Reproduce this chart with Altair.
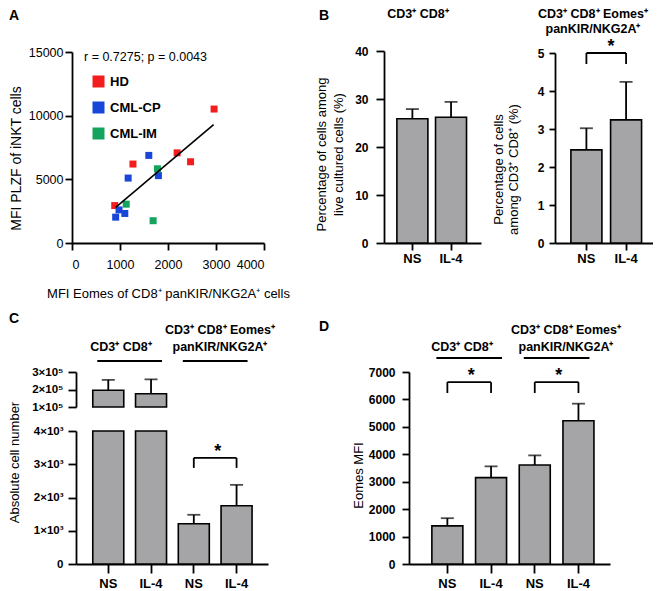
import altair as alt
import pandas as pd

FONT = "Liberation Sans, Arial, Helvetica, sans-serif"
GRAY = "#a5a5a7"
W, H = 645, 575

# ---------------- Panel A data ----------------
a_group = ["HD", "HD", "HD", "HD", "HD",
           "CML-CP", "CML-CP", "CML-CP", "CML-CP", "CML-CP", "CML-CP",
           "CML-IM", "CML-IM", "CML-IM"]
a_eomes = [2960, 2190, 2470, 1270, 890, 1600, 1800, 1170, 980, 1100, 910, 1780, 1130, 1690]
a_plzf = [10520, 7080, 6380, 6200, 2940, 6880, 5290, 5100, 2600, 2320, 2030, 5830, 3050, 1750]
a_fit_x = [910, 2950]
a_fit_y = [2790, 9300]
a_legend = ["HD", "CML-CP", "CML-IM"]
a_colors = ["#f31d1d", "#1846d8", "#14a45e"]
a_stat = "r = 0.7275; p = 0.0043"

# ---------------- Panel B data ----------------
b_cond = ["NS", "IL-4"]
b_live_mean = [25.9, 26.2]
b_live_sd = [2.0, 3.2]
b_eo_mean = [2.45, 3.24]
b_eo_sd = [0.57, 1.00]
b_sig = [5.0, 4.71]

# ---------------- Panel C data ----------------
c_set = ["g1", "g1", "g2", "g2"]
c_cond = ["NS", "IL-4", "NS", "IL-4"]
c_mean = [196000, 176000, 1210, 1750]
c_sd = [59000, 82000, 270, 630]
c_sig = [3190, 2890]

# ---------------- Panel D data ----------------
d_mean = [1390, 3150, 3610, 5225]
d_sd = [280, 410, 350, 620]
d_sig = [6630, 6235]

grp_cd8 = "CD3\u207a CD8\u207a"
grp_eom = ["CD3\u207a CD8\u207a  Eomes\u207a", "panKIR/NKG2A\u207a"]

NOAXIS = "none"   # marker: hide the axis for the whole panel
SHARE = "share"   # marker: secondary layer, axis comes from the primary layer


def axis(orient, offset, **kw):
    base = dict(orient=orient, grid=False, domainColor="black",
                domainWidth=1.8, tickColor="black", tickWidth=1.8, tickSize=7,
                labelColor="black", labelFont=FONT, labelFontSize=12,
                labelFontWeight="bold", labelPadding=4, titleFont=FONT,
                titleColor="black", titleFontWeight="normal", titleFontSize=13,
                labelOverlap=False, labelAngle=0)
    if offset != 0:
        base["offset"] = offset
    base.update(kw)
    return alt.Axis(**base)


def X(field, scale, ax=SHARE):
    if isinstance(ax, str) and ax == NOAXIS:
        return alt.X(field, scale=scale, axis=None)
    if isinstance(ax, str) and ax == SHARE:
        return alt.X(field, scale=scale)
    return alt.X(field, scale=scale, axis=ax)


def Y(field, scale, ax=SHARE):
    if isinstance(ax, str) and ax == NOAXIS:
        return alt.Y(field, scale=scale, axis=None)
    if isinstance(ax, str) and ax == SHARE:
        return alt.Y(field, scale=scale)
    return alt.Y(field, scale=scale, axis=ax)


one = pd.DataFrame({"a": [0]})


def txt(s, x, y, size=12.5, weight="bold", align="center", baseline="middle", lh=None):
    kw = dict(font=FONT, fontSize=size, fontWeight=weight, align=align,
              baseline=baseline, color="black")
    if lh:
        kw["lineHeight"] = lh
    return alt.Chart(one).mark_text(**kw).encode(
        x=alt.value(x), y=alt.value(y), text=alt.value(s))


def bar_panel(df, xs, ys, xaxis, yaxis, y2=None):
    sx = NOAXIS if (isinstance(xaxis, str) and xaxis == NOAXIS) else SHARE
    base = alt.Chart(df)
    bars = base.mark_bar(size=31, fill=GRAY, stroke="black", strokeWidth=1.6).encode(
        x=X("key:N", xs, xaxis), y=Y("mean:Q", ys, yaxis))
    if y2 is not None:
        bars = bars.encode(y2=alt.datum(y2))
    err = base.mark_rule(color="black", strokeWidth=1.8).encode(
        x=X("key:N", xs, sx), y=Y("mean:Q", ys), y2="top:Q")
    cap = base.mark_tick(color="black", thickness=1.8, size=13).encode(
        x=X("key:N", xs, sx), y=Y("top:Q", ys))
    return [bars, err, cap]


def bracket(k1, k2, top, arm, xs, ys, dx):
    h = pd.DataFrame({"x1": [k1], "x2": [k2], "top": [top]})
    a = pd.DataFrame({"x": [k1, k2], "top": [top, top], "arm": [arm, arm]})
    hl = alt.Chart(h).mark_rule(color="black", strokeWidth=1.8).encode(
        x=X("x1:N", xs), x2="x2:N", y=Y("top:Q", ys))
    al = alt.Chart(a).mark_rule(color="black", strokeWidth=1.8).encode(
        x=X("x:N", xs), y=Y("arm:Q", ys), y2="top:Q")
    st = alt.Chart(h).mark_text(text="*", font=FONT, fontSize=18, fontWeight="bold",
                                dx=dx, dy=-6, baseline="middle", color="black").encode(
        x=X("x1:N", xs), y=Y("top:Q", ys))
    return [hl, al, st]


def group_line(k1, k2, xs, ypix):
    d = pd.DataFrame({"x1": [k1], "x2": [k2]})
    return alt.Chart(d).mark_rule(color="black", strokeWidth=1.8, xOffset=-11,
                                  x2Offset=11).encode(
        x=X("x1:N", xs), x2="x2:N", y=alt.value(ypix))


# ---------------- Panel A ----------------
dfA = pd.DataFrame({"eomes": a_eomes, "plzf": a_plzf, "group": a_group})
dfFit = pd.DataFrame({"eomes": a_fit_x, "plzf": a_fit_y})
axs = alt.Scale(domain=[0, 4000], range=[64, 256], nice=False, zero=False)
ays = alt.Scale(domain=[0, 15000], range=[235, 44], nice=False, zero=False)

ptsA = alt.Chart(dfA).mark_square(size=49, opacity=1).encode(
    x=X("eomes:Q", axs, axis(
        "bottom", 235 - H, values=[0, 1000, 2000, 3000, 4000], format="d",
        labelFontWeight="normal", labelFontSize=12.5, labelPadding=8,
        title="MFI Eomes of CD8\u207a panKIR/NKG2A\u207a cells",
        titleX=160, titleY=50, titleBaseline="middle", titleAlign="center")),
    y=Y("plzf:Q", ays, axis(
        "left", -64, values=[0, 5000, 10000, 15000], format="d",
        labelFontWeight="normal", labelFontSize=12.5, labelPadding=2,
        title="MFI PLZF of iNKT cells",
        titleFontSize=14, titleAngle=270, titleX=-56, titleY=150,
        titleBaseline="middle", titleAlign="center")),
    color=alt.Color("group:N", scale=alt.Scale(domain=a_legend, range=a_colors),
                    legend=alt.Legend(orient="none", legendX=84, legendY=67,
                                      title=None, symbolType="square", symbolSize=144,
                                      symbolStrokeWidth=0, labelFont=FONT,
                                      labelFontSize=13, labelFontWeight="bold",
                                      labelColor="black", rowPadding=12,
                                      labelOffset=5, padding=0)))
fitA = alt.Chart(dfFit).mark_line(color="black", strokeWidth=1.6).encode(
    x=X("eomes:Q", axs), y=Y("plzf:Q", ays))
panelA = alt.layer(ptsA, fitA)

# ---------------- Panel B (left) ----------------
dfBL = pd.DataFrame({"key": b_cond, "mean": b_live_mean, "sd": b_live_sd})
dfBL["top"] = dfBL["mean"] + dfBL["sd"]
blx = alt.Scale(domain=b_cond, range=[376, 473], padding=0.51, align=0.48)
bly = alt.Scale(domain=[0, 40], range=[235, 43], nice=False, zero=True)
panelBL = alt.layer(*bar_panel(
    dfBL, blx, bly,
    axis("bottom", 235 - H, title=None, labelFontSize=13, labelPadding=2),
    axis("left", -376, values=[0, 10, 20, 30, 40], format="d", tickSize=8,
         labelPadding=8,
         title=["Percentage of cells among", "live cultured cells (%)"],
         titleAngle=270, titleX=-63, titleY=146, titleBaseline="middle",
         titleAlign="center", titleLineHeight=17)))

# ---------------- Panel B (right) ----------------
dfBR = pd.DataFrame({"key": b_cond, "mean": b_eo_mean, "sd": b_eo_sd})
dfBR["top"] = dfBR["mean"] + dfBR["sd"]
brx = alt.Scale(domain=b_cond, range=[547, 647], padding=0.52, align=0.53)
bry = alt.Scale(domain=[0, 5], range=[235, 45], nice=False, zero=True)
panelBR = alt.layer(*bar_panel(
    dfBR, brx, bry,
    axis("bottom", 235 - H, title=None, labelFontSize=13, labelPadding=2),
    axis("left", -547, values=[0, 1, 2, 3, 4, 5], format="d", tickSize=6,
         labelPadding=5,
         title=["Percentage of cells", "among CD3\u207a CD8\u207a (%)"],
         titleAngle=270, titleX=-57, titleY=161, titleBaseline="middle",
         titleAlign="center", titleLineHeight=15)),
    *bracket("NS", "IL-4", b_sig[0], b_sig[1], brx, bry, 24.5))

# ---------------- Panel C (broken axis) ----------------
c_key = [s + "|" + c for s, c in zip(c_set, c_cond)]
dfC = pd.DataFrame({"key": c_key, "set": c_set, "mean": c_mean, "sd": c_sd})
dfC["top"] = dfC["mean"] + dfC["sd"]
cx = alt.Scale(domain=c_key, range=[68, 260], padding=0.49, align=0.51)
cy_up = alt.Scale(domain=[100000, 300000], range=[399, 364], nice=False, zero=False)
cy_lo = alt.Scale(domain=[0, 4000], range=[556, 423], nice=False, zero=True, clamp=True)
lab = "split(datum.value, '|')[1]"

panelCup = alt.layer(*bar_panel(
    dfC[dfC["set"] == "g1"], cx, cy_up, NOAXIS,
    axis("left", -68, values=[100000, 200000, 300000], tickSize=8, labelPadding=5,
         labelFontSize=11.5,
         labelExpr="(datum.value / 100000) + '\u00d710\u2075'", title=None),
    y2=100000))

lowbars = alt.Chart(dfC).mark_bar(size=31, fill=GRAY, stroke="black", strokeWidth=1.6).encode(
    x=X("key:N", cx, axis("bottom", 556 - H, title=None, labelExpr=lab,
                          labelFontSize=13, tickSize=9, labelPadding=4)),
    y=Y("mean:Q", cy_lo, axis(
        "left", -68, values=[0, 1000, 2000, 3000, 4000], tickSize=8, labelPadding=5,
        labelFontSize=11.5,
        labelExpr="datum.value == 0 ? '0' : (datum.value / 1000) + '\u00d710\u00b3'",
        title="Absolute cell number", titleAngle=270, titleX=-62, titleY=454,
        titleBaseline="middle", titleAlign="center")))
dfC2 = dfC[dfC["set"] == "g2"]
lowerr = alt.Chart(dfC2).mark_rule(color="black", strokeWidth=1.8).encode(
    x=X("key:N", cx), y=Y("mean:Q", cy_lo), y2="top:Q")
lowcap = alt.Chart(dfC2).mark_tick(color="black", thickness=1.8, size=13).encode(
    x=X("key:N", cx), y=Y("top:Q", cy_lo))
panelClow = alt.layer(
    lowbars, lowerr, lowcap,
    *bracket(c_key[2], c_key[3], c_sig[0], c_sig[1], cx, cy_lo, 24),
    group_line(c_key[0], c_key[1], cx, 353),
    group_line(c_key[2], c_key[3], cx, 353))

# ---------------- Panel D ----------------
dfD = pd.DataFrame({"key": c_key, "mean": d_mean, "sd": d_sd})
dfD["top"] = dfD["mean"] + dfD["sd"]
dx_ = alt.Scale(domain=c_key, range=[401, 602], padding=0.6, align=0.565)
dy_ = alt.Scale(domain=[0, 7000], range=[556, 364], nice=False, zero=True)
panelD = alt.layer(*bar_panel(
    dfD, dx_, dy_,
    axis("bottom", 556 - H, title=None, labelExpr=lab, labelFontSize=13,
         tickSize=9, labelPadding=4),
    axis("left", -401, values=[0, 1000, 2000, 3000, 4000, 5000, 6000, 7000],
         format="d", labelPadding=7, title="Eomes MFI", titleAngle=270, titleX=-51,
         titleY=467, titleBaseline="middle", titleAlign="center")),
    *bracket(c_key[0], c_key[1], d_sig[0], d_sig[1], dx_, dy_, 24),
    *bracket(c_key[2], c_key[3], d_sig[0], d_sig[1], dx_, dy_, 24),
    group_line(c_key[0], c_key[1], dx_, 350),
    group_line(c_key[2], c_key[3], dx_, 350))

notes = [
    txt("A", 1, 8, size=14, align="left"),
    txt("B", 311, 8, size=14, align="left"),
    txt("C", 1, 311, size=14, align="left"),
    txt("D", 311, 319, size=14, align="left"),
    txt(a_stat, 76, 49, size=12.5, weight="normal", align="left"),
    txt(grp_cd8, 410, 6),
    txt(grp_eom, 585, 6, lh=15),
    txt(grp_cd8, 113, 339),
    txt(grp_eom, 212, 322, lh=17),
    txt(grp_cd8, 454, 339),
    txt(grp_eom, 558, 322, lh=17),
]

chart = alt.layer(panelA, panelBL, panelBR, panelCup, panelClow, panelD, *notes).resolve_scale(
    x="independent", y="independent", color="independent"
).properties(width=W, height=H, padding=0, background="white").configure_view(stroke=None)

chart.save("out.html", embed_options={"renderer": "svg", "actions": False})
